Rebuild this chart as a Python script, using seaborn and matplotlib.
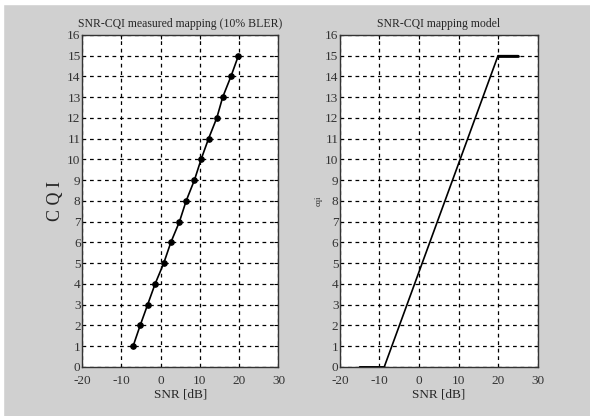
import numpy as np
import pandas as pd
import seaborn as sns
import matplotlib.pyplot as plt
from matplotlib.patches import Rectangle

# measured SNR for each CQI (10% BLER)
cqi_measured = [1, 2, 3, 4, 5, 6, 7, 8, 9, 10, 11, 12, 13, 14, 15]
snr_measured = [-7.0, -5.2, -3.3, -1.4, 0.8, 2.6, 4.8, 6.5, 8.6, 10.3, 12.2, 14.3, 15.8, 17.9, 19.8]

# piecewise linear model, right panel
snr_model = [-15, -8.8, 19.9, 25]
cqi_model = [0, 0, 15, 15]

x_ticks = [-20, -10, 0, 10, 20, 30]
y_ticks = list(range(0, 17))

sns.set_style('white')
plt.rcParams['font.family'] = ['Liberation Serif', 'DejaVu Serif']
plt.rcParams['axes.unicode_minus'] = False

bg = '#d0d0d0'
fig = plt.figure(figsize=(5.9, 4.16), dpi=100, facecolor=bg)
# thin white border at top / left like the screenshot
fig.patches.append(Rectangle((0, 0.99), 1, 0.01, transform=fig.transFigure, color='white', zorder=-1))
fig.patches.append(Rectangle((0, 0), 0.005, 1, transform=fig.transFigure, color='white', zorder=-1))

ax1 = fig.add_axes([0.139, 0.118, 0.333, 0.798])
ax2 = fig.add_axes([0.576, 0.118, 0.336, 0.798])

df_m = pd.DataFrame({'SNR': snr_measured, 'CQI': cqi_measured})
df_mod = pd.DataFrame({'SNR': snr_model, 'CQI': cqi_model})

sns.lineplot(data=df_m, x='SNR', y='CQI', ax=ax1, color='black', lw=1.2,
             marker='o', markersize=4, markeredgecolor='black', sort=False)
sns.lineplot(data=df_mod, x='SNR', y='CQI', ax=ax2, color='black', lw=1.2, sort=False)
# the flat parts look a bit heavier in the picture
ax2.plot(snr_model[:2], cqi_model[:2], color='black', lw=2)
ax2.plot(snr_model[2:], cqi_model[2:], color='black', lw=2)

for ax in (ax1, ax2):
    ax.set_facecolor('white')
    ax.set_xlim(-20, 30)
    ax.set_ylim(0, 16)
    ax.set_xticks(x_ticks)
    ax.set_yticks(y_ticks)
    ax.grid(True, color='black', linestyle=(0, (3, 3)), linewidth=0.9)
    ax.tick_params(direction='in', length=3, width=0.8, top=True, right=True,
                   labelsize=9.5, colors='black')
    ax.tick_params(axis='y', pad=1)
    ax.tick_params(axis='x', pad=6)
    for lab in ax.get_xticklabels() + ax.get_yticklabels():
        lab.set_color('#333333')
    for s in ax.spines.values():
        s.set_color('#333333')
        s.set_linewidth(1)
    ax.set_xlabel('SNR [dB]', fontsize=9.5, labelpad=1)

ax1.set_title('SNR-CQI measured mapping (10% BLER)', fontsize=8.5, pad=6)
ax2.set_title('SNR-CQI mapping model', fontsize=8.5, pad=6)
ax1.set_ylabel('C Q I', fontsize=13, labelpad=2)
ax2.set_ylabel('cqi', fontsize=6, labelpad=2)

fig.savefig('out.png', dpi=100, facecolor=bg)
